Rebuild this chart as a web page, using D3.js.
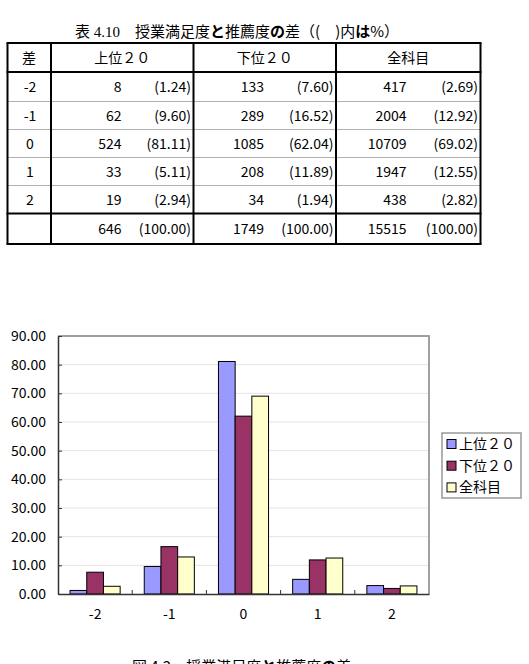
<!DOCTYPE html>
<html>
<head>
<meta charset="utf-8">
<script src="https://cdn.jsdelivr.net/npm/d3@7"></script>
<style>
  body { margin: 0; background: #fff; }
  text { font-family: "Noto Sans CJK JP", "Noto Sans", sans-serif; fill: #000; }
</style>
</head>
<body>
<svg id="page" width="529" height="664"></svg>
<script>
var diffs = ["-2", "-1", "0", "1", "2"];
var groups = ["上位２０", "下位２０", "全科目"];
var countTop = [8, 62, 524, 33, 19];
var countBottom = [133, 289, 1085, 208, 34];
var countAll = [417, 2004, 10709, 1947, 438];
var pctTop = [1.24, 9.60, 81.11, 5.11, 2.94];
var pctBottom = [7.60, 16.52, 62.04, 11.89, 1.94];
var pctAll = [2.69, 12.92, 69.02, 12.55, 2.82];
var totals = [646, 1749, 15515];
var totalPct = [100, 100, 100];
var yTicks = [0, 10, 20, 30, 40, 50, 60, 70, 80, 90];
var colors = ["#9999ff", "#993366", "#ffffcc"];

var counts = [countTop, countBottom, countAll];
var pcts = [pctTop, pctBottom, pctAll];
var f2 = d3.format(".2f");

var svg = d3.select("#page");

// ---- table title
var title = svg.append("text").attr("x", 75).attr("y", 37).style("font-size", "15px");
title.append("tspan").text("表");
title.append("tspan").style("font-family", "'Liberation Serif', serif").text(" 4.10");
title.append("tspan").text("　授業満足度");
title.append("tspan").style("font-weight", "bold").text("と");
title.append("tspan").text("推薦度");
title.append("tspan").style("font-weight", "bold").text("の");
title.append("tspan").text("差（(　)内");
title.append("tspan").style("font-weight", "bold").text("は");
title.append("tspan").text("%）");

// ---- table
var colX = [7.5, 51, 193.5, 336, 480.5];
var rowY = [43, 72, 101.5, 129.5, 157.5, 185.5, 213.5, 244];
var tbl = svg.append("g");

// thin row separators
[2, 3, 4, 5].forEach(function(i) {
  tbl.append("line").attr("x1", colX[0]).attr("x2", colX[4])
    .attr("y1", rowY[i]).attr("y2", rowY[i])
    .attr("stroke", "#b0b0b0").attr("stroke-width", 1);
});
// thick lines
[0, 1, 6, 7].forEach(function(i) {
  tbl.append("line").attr("x1", colX[0] - 1).attr("x2", colX[4] + 1)
    .attr("y1", rowY[i]).attr("y2", rowY[i])
    .attr("stroke", "#000").attr("stroke-width", 2);
});
colX.forEach(function(x) {
  tbl.append("line").attr("x1", x).attr("x2", x)
    .attr("y1", rowY[0]).attr("y2", rowY[7])
    .attr("stroke", "#000").attr("stroke-width", 2);
});

function mid(i) { return (rowY[i] + rowY[i + 1]) / 2; }

// header
tbl.append("text").attr("x", 29).attr("y", mid(0)).attr("dy", "0.36em")
  .attr("text-anchor", "middle").style("font-size", "14px").text("差");
groups.forEach(function(g, j) {
  tbl.append("text").attr("x", (colX[j + 1] + colX[j + 2]) / 2).attr("y", mid(0)).attr("dy", "0.36em")
    .attr("text-anchor", "middle").style("font-size", "14px").text(g);
});

// body rows
diffs.forEach(function(d, i) {
  tbl.append("text").attr("x", 30).attr("y", mid(i + 1)).attr("dy", "0.36em")
    .attr("text-anchor", "middle").style("font-size", "14px").text(d);
  groups.forEach(function(g, j) {
    tbl.append("text").attr("x", colX[j + 1] + 70.5).attr("y", mid(i + 1)).attr("dy", "0.36em")
      .attr("text-anchor", "end").style("font-size", "14px").text(counts[j][i]);
    tbl.append("text").attr("x", colX[j + 2] - 2.5).attr("y", mid(i + 1)).attr("dy", "0.36em")
      .attr("text-anchor", "end").style("font-size", "14px").text("(" + f2(pcts[j][i]) + ")");
  });
});
// totals
groups.forEach(function(g, j) {
  tbl.append("text").attr("x", colX[j + 1] + 70.5).attr("y", mid(6)).attr("dy", "0.36em")
    .attr("text-anchor", "end").style("font-size", "14px").text(totals[j]);
  tbl.append("text").attr("x", colX[j + 2] - 2.5).attr("y", mid(6)).attr("dy", "0.36em")
    .attr("text-anchor", "end").style("font-size", "14px").text("(" + f2(totalPct[j]) + ")");
});

// ---- bar chart
var plotL = 58, plotR = 429, plotT = 336, plotB = 594;

var x0 = d3.scaleBand().domain(diffs).range([plotL, plotR]).padding(0);
var bw = x0.bandwidth();
var gw = bw * 0.675;
var x1 = d3.scaleBand().domain(groups).range([(bw - gw) / 2, (bw + gw) / 2]).padding(0);
var y = d3.scaleLinear().domain([0, 90]).range([plotB, plotT]);

// grid
svg.append("g").selectAll("line").data(yTicks.slice(1, -1)).join("line")
  .attr("x1", plotL).attr("x2", plotR)
  .attr("y1", function(d) { return y(d); }).attr("y2", function(d) { return y(d); })
  .attr("stroke", "#e4e4e4").attr("stroke-width", 1);

// frame top/right
svg.append("path")
  .attr("d", "M" + plotL + "," + plotT + "H" + plotR + "V" + plotB)
  .attr("fill", "none").attr("stroke", "#a0a0a0").attr("stroke-width", 2);

// bars
var gBars = svg.append("g");
groups.forEach(function(g, j) {
  gBars.selectAll(null).data(diffs).join("rect")
    .attr("x", function(d) { return x0(d) + x1(g); })
    .attr("y", function(d, i) { return y(pcts[j][i]); })
    .attr("width", x1.bandwidth())
    .attr("height", function(d, i) { return plotB - y(pcts[j][i]); })
    .attr("fill", colors[j]).attr("stroke", "#000").attr("stroke-width", 1);
});

// y axis
var yAxis = svg.append("g").attr("transform", "translate(" + plotL + ",0)")
  .call(d3.axisLeft(y).tickValues(yTicks).tickFormat(f2).tickSizeInner(-4).tickSizeOuter(0).tickPadding(12));
yAxis.select(".domain").attr("stroke", "#333").attr("stroke-width", 1.5);
yAxis.selectAll(".tick line").attr("stroke", "#333");
yAxis.selectAll("text").style("font-size", "14px").attr("fill", "#000");

// x axis (labels at band centres, ticks at band boundaries)
var xAxis = svg.append("g").attr("transform", "translate(0," + plotB + ")")
  .call(d3.axisBottom(x0).tickSize(0).tickPadding(15));
xAxis.select(".domain").attr("stroke", "#333").attr("stroke-width", 1.5);
xAxis.selectAll("text").style("font-size", "14px").attr("fill", "#000");
svg.append("g").selectAll("line").data(diffs.slice(1)).join("line")
  .attr("x1", function(d) { return x0(d); }).attr("x2", function(d) { return x0(d); })
  .attr("y1", plotB).attr("y2", plotB - 4)
  .attr("stroke", "#333");

// legend
var lg = svg.append("g").attr("transform", "translate(442,433)");
lg.append("rect").attr("width", 79).attr("height", 65)
  .attr("fill", "#fff").attr("stroke", "#999").attr("stroke-width", 1.5);
groups.forEach(function(g, j) {
  var cy = 11 + j * 21.7;
  lg.append("rect").attr("x", 5).attr("y", cy - 4.5).attr("width", 9).attr("height", 9)
    .attr("fill", colors[j]).attr("stroke", "#000").attr("stroke-width", 1);
  lg.append("text").attr("x", 17).attr("y", cy).attr("dy", "0.36em")
    .style("font-size", "14px").text(g);
});

// figure caption (cut off at the bottom edge)
var cap = svg.append("text").attr("x", 132).attr("y", 672).style("font-size", "15px");
cap.append("tspan").text("図 4.2　授業満足度");
cap.append("tspan").style("font-weight", "bold").text("と");
cap.append("tspan").text("推薦度");
cap.append("tspan").style("font-weight", "bold").text("の");
cap.append("tspan").text("差");
</script>
</body>
</html>
